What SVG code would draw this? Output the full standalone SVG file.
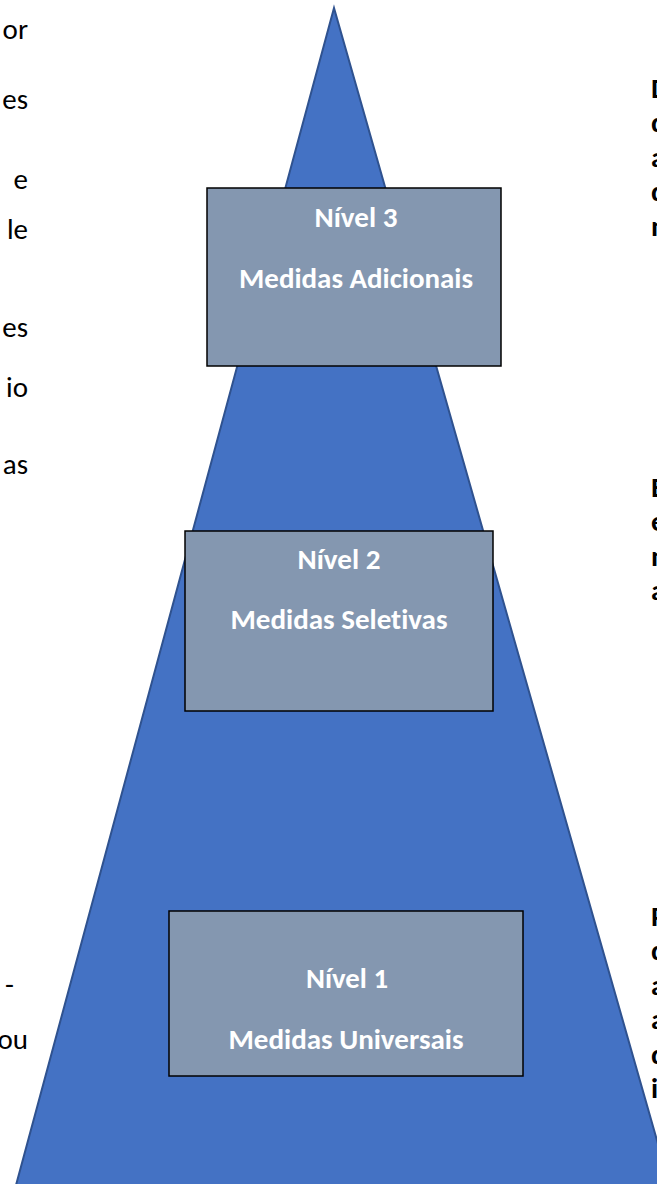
<svg xmlns="http://www.w3.org/2000/svg" width="657" height="1184" viewBox="0 0 657 1184">
<style>
.tri{fill:#4472C4;stroke:#2F528F;stroke-width:2}
.box{fill:#8497B0;stroke:#000;stroke-width:1.5}
text{font-variant-ligatures:none}
.bt{font-family:Carlito,"Liberation Sans",Arial,sans-serif;font-weight:bold;font-size:29px;fill:#fff;text-anchor:middle}
.lt{font-family:Carlito,"Liberation Sans",Arial,sans-serif;font-size:29px;fill:#000;text-anchor:end}
.rt{font-family:Carlito,"Liberation Sans",Arial,sans-serif;font-weight:bold;font-size:29px;fill:#000}
</style>
<rect width="657" height="1184" fill="#fff"/>
<g id="pyramid">
<polygon class="tri" points="334,8 12,1200 674,1200"/>
</g>
<g id="left-text">
<text class="lt" x="28" y="39">or</text>
<text class="lt" x="28" y="109">es</text>
<text class="lt" x="28" y="189">e</text>
<text class="lt" x="28" y="239">le</text>
<text class="lt" x="28" y="337">es</text>
<text class="lt" x="28" y="397">io</text>
<text class="lt" x="28" y="474">as</text>
<text class="lt" x="14" y="994">-</text>
<text class="lt" x="28" y="1049">ou</text>
</g>
<g id="right-text">
<text class="rt" x="651" y="98">D</text>
<text class="rt" x="651" y="132">d</text>
<text class="rt" x="651" y="167">a</text>
<text class="rt" x="651" y="201">d</text>
<text class="rt" x="651" y="236">n</text>
<text class="rt" x="651" y="497">E</text>
<text class="rt" x="651" y="531">e</text>
<text class="rt" x="651" y="566">n</text>
<text class="rt" x="651" y="600">a</text>
<text class="rt" x="651" y="926">P</text>
<text class="rt" x="651" y="960">d</text>
<text class="rt" x="651" y="995">a</text>
<text class="rt" x="651" y="1029">a</text>
<text class="rt" x="651" y="1064">d</text>
<text class="rt" x="651" y="1098">i</text>
</g>
<g id="nivel3">
<rect class="box" x="207" y="188" width="294" height="178"/>
<text class="bt" x="356" y="227" textLength="83" lengthAdjust="spacingAndGlyphs">Nível 3</text>
<text class="bt" x="356" y="288" textLength="234" lengthAdjust="spacingAndGlyphs">Medidas Adicionais</text>
</g>
<g id="nivel2">
<rect class="box" x="185" y="531" width="308" height="180"/>
<text class="bt" x="339" y="569" textLength="83" lengthAdjust="spacingAndGlyphs">Nível 2</text>
<text class="bt" x="339" y="629" textLength="217" lengthAdjust="spacingAndGlyphs">Medidas Seletivas</text>
</g>
<g id="nivel1">
<rect class="box" x="169" y="911" width="354" height="165"/>
<text class="bt" x="347" y="988" textLength="82" lengthAdjust="spacingAndGlyphs">Nível 1</text>
<text class="bt" x="346" y="1049" textLength="235" lengthAdjust="spacingAndGlyphs">Medidas Universais</text>
</g>
<g id="connectors"/>
</svg>
